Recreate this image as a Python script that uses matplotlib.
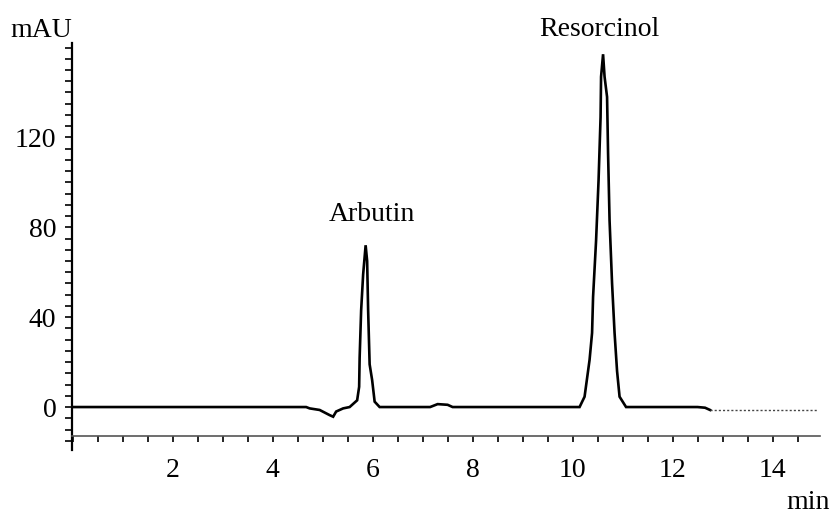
import matplotlib
matplotlib.use("Agg")
import matplotlib.pyplot as plt
from matplotlib.ticker import MultipleLocator, FixedLocator

# Chromatogram trace (time in min, absorbance in mAU)
time = [0.0, 0.5, 1.0, 1.5, 2.0, 2.5, 3.0, 3.5, 4.0, 4.5, 4.67, 4.74, 4.94,
        5.14, 5.21, 5.27, 5.41, 5.54, 5.69, 5.73, 5.74, 5.77, 5.81, 5.86,
        5.89, 5.91, 5.94, 5.99, 6.04, 6.14, 6.5, 7.0, 7.15, 7.3, 7.5, 7.6,
        8.0, 9.0, 10.0, 10.14, 10.24, 10.34, 10.39, 10.41, 10.47, 10.52,
        10.56, 10.57, 10.61, 10.64, 10.69, 10.71, 10.74, 10.79, 10.84,
        10.89, 10.94, 11.07, 11.5, 12.0, 12.5, 12.65, 12.75, 13.5, 14.0, 14.9]
signal = [0.0, 0.0, 0.0, 0.0, 0.0, 0.0, 0.0, 0.0, 0.0, 0.0, 0.0, -0.6, -1.3,
          -3.6, -4.3, -2.0, -0.6, 0.0, 3.0, 9.0, 22.0, 43.0, 59.0, 72.0,
          65.0, 43.0, 19.0, 12.0, 2.4, 0.0, 0.0, 0.0, 0.0, 1.3, 1.0, 0.0,
          0.0, 0.0, 0.0, 0.0, 4.6, 21.0, 33.0, 49.0, 74.0, 101.0,
          129.0, 147.0, 157.0, 147.0, 138.0, 113.0, 83.0, 55.0, 33.0,
          16.0, 4.6, 0.0, 0.0, 0.0, 0.0, -0.3, -1.3, -1.3, -1.3, -1.3]

peak_names = ["Arbutin", "Resorcinol"]
peak_label_x = [5.98, 10.54]
peak_label_y = [83, 165]

x_ticks = [2, 4, 6, 8, 10, 12, 14]
y_ticks = [0, 40, 80, 120]

plt.rcParams['font.family'] = ['Liberation Serif', 'DejaVu Serif']

fig = plt.figure(figsize=(8.33, 5.17), dpi=100)
ax = fig.add_axes([0.0861, 0.1301, 0.8983, 0.7867])

split = 62
ax.plot(time[:split + 1], signal[:split + 1], color='black', lw=1.9,
        solid_joinstyle='miter')
ax.plot(time[split:], signal[split:], color='#444444', lw=1.0, ls=(0, (1.5, 1.5)))

ax.set_xlim(-0.02, 14.95)
ax.set_ylim(-19, 162)

for s in ['top', 'right']:
    ax.spines[s].set_visible(False)
ax.spines['bottom'].set_position(('data', -13))
ax.spines['bottom'].set_color('#555555')
ax.spines['bottom'].set_linewidth(1.2)
ax.spines['left'].set_linewidth(1.6)

ax.xaxis.set_major_locator(FixedLocator(x_ticks))
ax.xaxis.set_minor_locator(MultipleLocator(0.5))
ax.yaxis.set_major_locator(FixedLocator(y_ticks))
ax.yaxis.set_minor_locator(MultipleLocator(5))
ax.set_xticklabels([str(v) for v in x_ticks])
ax.set_yticklabels([str(v) for v in y_ticks])

ax.tick_params(axis='x', which='both', direction='out', length=4, width=1.2,
               pad=12, labelsize=20)
ax.tick_params(axis='y', which='both', direction='out', length=5, width=1.2,
               pad=6, labelsize=20)

for name, lx, ly in zip(peak_names, peak_label_x, peak_label_y):
    ax.text(lx, ly, name, ha='center', va='baseline', fontsize=20,
            clip_on=False)

fig.text(10 / 833, 0.928, "mAU", ha='left', va='baseline', fontsize=20)
fig.text(830 / 833, 0.004, "min", ha='right', va='bottom', fontsize=20)

fig.savefig("out.png", dpi=100)
